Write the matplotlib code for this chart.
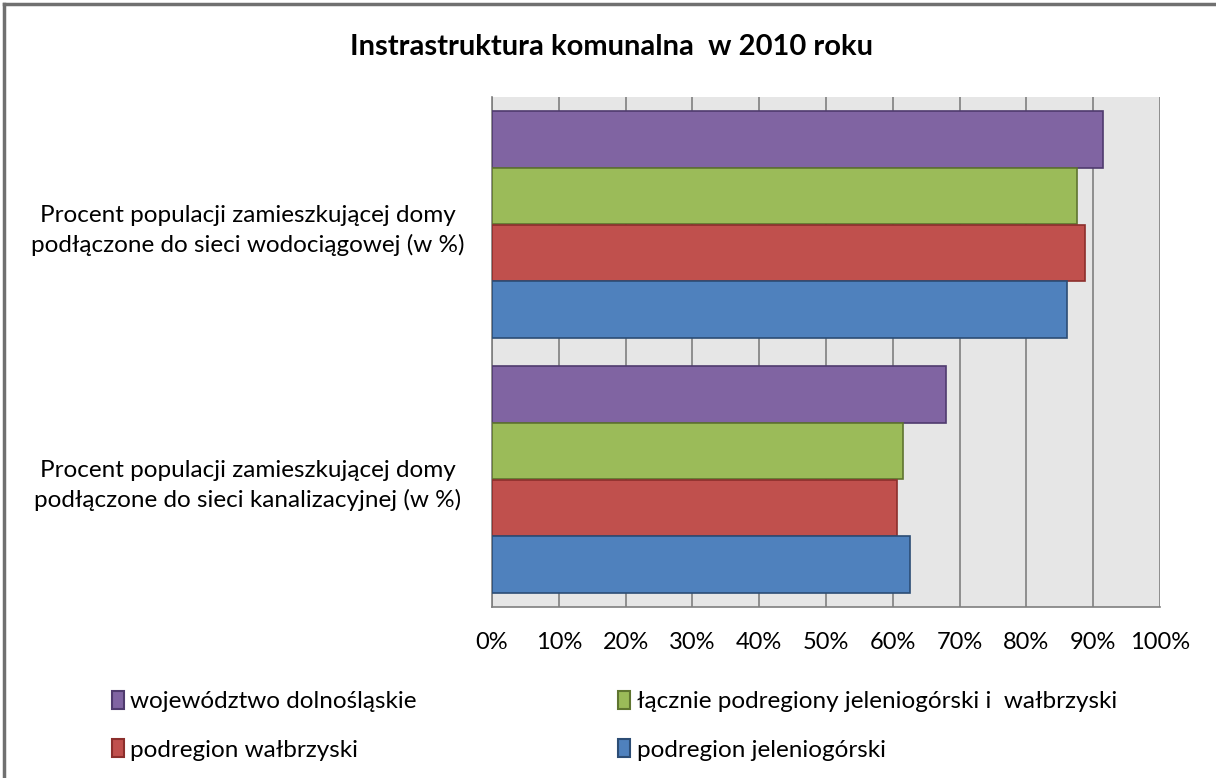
import numpy as np
import matplotlib.pyplot as plt
from matplotlib.patches import Patch
from matplotlib.lines import Line2D

# dane
categories = ['Procent populacji zamieszkującej domy\npodłączone do sieci wodociągowej (w %)',
              'Procent populacji zamieszkującej domy\npodłączone do sieci kanalizacyjnej (w %)']
series = ['województwo dolnośląskie',
          'łącznie podregiony jeleniogórski i  wałbrzyski',
          'podregion wałbrzyski',
          'podregion jeleniogórski']
values = {
    'województwo dolnośląskie': [91.5, 68.0],
    'łącznie podregiony jeleniogórski i  wałbrzyski': [87.5, 61.5],
    'podregion wałbrzyski': [88.8, 60.6],
    'podregion jeleniogórski': [86.1, 62.6],
}
xticks = [0, 10, 20, 30, 40, 50, 60, 70, 80, 90, 100]

colors = ['#8064A2', '#9BBB59', '#C0504D', '#4F81BD']
edges = ['#4F3B6E', '#5F7530', '#8C2F2C', '#2C4D75']

plt.rcParams['font.family'] = ['Lato', 'DejaVu Sans']

fig = plt.figure(figsize=(12.16, 7.78), dpi=100)
ax = fig.add_axes([492/1216, 1-607/778, 668/1216, 510/778])
ax.set_facecolor('#E6E6E6')

h = 0.2216
y = np.arange(len(categories))
for i, s in enumerate(series):
    ax.barh(y + (i - 1.5) * h, values[s], height=h, color=colors[i],
            edgecolor=edges[i], linewidth=1.2, zorder=3)

ax.set_xlim(0, 100)
ax.set_ylim(1.5, -0.5)
ax.set_xticks(xticks)
ax.set_xticklabels([f'{t}%' for t in xticks], fontsize=17)
ax.tick_params(axis='x', length=0, pad=18)
ax.set_yticks(y)
ax.set_yticklabels(categories, fontsize=17.5, ha='center', multialignment='center',
                   linespacing=1.45)
ax.tick_params(axis='y', length=0, pad=176)
ax.grid(axis='x', color='#7F7F7F', linewidth=1.2, zorder=1)
for sp in ['top', 'right']:
    ax.spines[sp].set_visible(False)
for sp in ['left', 'bottom']:
    ax.spines[sp].set_color('#7F7F7F')
    ax.spines[sp].set_linewidth(1.2)

fig.text(0.503, 1-47/778, 'Instrastruktura komunalna  w 2010 roku',
         ha='center', va='center', fontsize=21, fontweight='bold')

order = [0, 2, 1, 3]
handles = [Patch(facecolor=colors[i], edgecolor=edges[i], linewidth=1.5) for i in order]
labels = [series[i] for i in order]
fig.legend(handles, labels, ncol=2, loc='upper left',
           bbox_to_anchor=(90/1216, 1-669/778), frameon=False, fontsize=17.5,
           handlelength=0.5, handleheight=0.75, handletextpad=0.25,
           columnspacing=8.3, labelspacing=1.12)

# ramka
fig.add_artist(Line2D([4/1216, 4/1216], [0, 1-4/778], transform=fig.transFigure,
                      color='#707070', linewidth=2.5))
fig.add_artist(Line2D([4/1216, 1], [1-4/778, 1-4/778], transform=fig.transFigure,
                      color='#707070', linewidth=2.5))

fig.savefig('out.png', dpi=100)
